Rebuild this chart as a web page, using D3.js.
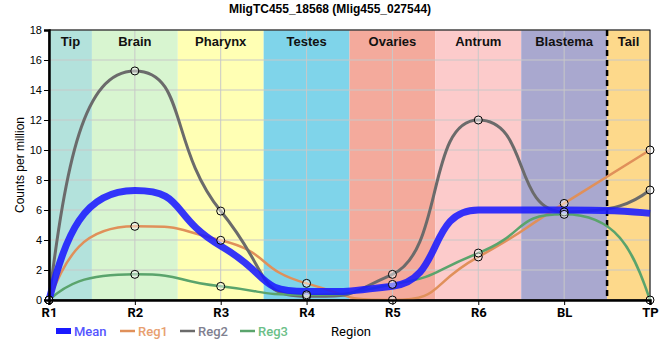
<!DOCTYPE html>
<html><head><meta charset="utf-8">
<script src="https://cdn.jsdelivr.net/npm/d3@7"></script>
<style>body{margin:0;background:#fff}</style>
</head><body><svg id="c" width="660" height="360"></svg>
<script>
const positions = ["R1","R2","R3","R4","R5","R6","BL","TP"];
const reg1 = [0, 4.91, 3.98, 1.11, 0, 2.87, 6.44, 10.0];
const reg2 = [0, 15.27, 5.93, 0.25, 1.71, 12.0, 5.87, 7.33];
const reg3 = [0, 1.71, 0.91, 0.35, 1.04, 3.13, 5.71, 0];
const meanVals = positions.map((p,i)=>(reg1[i]+reg2[i]+reg3[i])/3);
const bandNames = ["Tip","Brain","Pharynx","Testes","Ovaries","Antrum","Blastema","Tail"];
const bandStart = [0, 0.5, 1.5, 2.5, 3.5, 4.5, 5.5, 6.5];
const bandEnd   = [0.5, 1.5, 2.5, 3.5, 4.5, 5.5, 6.5, 7];
const bandColors = ["#b3e2dc","#d8f5d0","#ffffb4","#7fd4ea","#f4aa9c","#fccbcb","#a9a8cf","#fdd98b"];
const yTicks = [0,2,4,6,8,10,12,14,16,18];

const svg = d3.select("#c");
const L=49, R=650, T=30, B=300;
const xi = d3.scaleLinear().domain([0,7]).range([L,R]);
const x = d3.scalePoint().domain(positions).range([L,R]);
const y = d3.scaleLinear().domain([0,18]).range([B,T]);

svg.append("clipPath").attr("id","clip").append("rect")
  .attr("x",L-5).attr("y",T-10).attr("width",R-L+15).attr("height",B-T+10);

// bands
svg.selectAll("rect.band").data(bandNames).enter().append("rect")
  .attr("x",(d,i)=>xi(bandStart[i])).attr("y",T)
  .attr("width",(d,i)=>xi(bandEnd[i])-xi(bandStart[i])).attr("height",B-T)
  .attr("fill",(d,i)=>bandColors[i]);
// grid
svg.selectAll("line.gy").data(yTicks).enter().append("line")
  .attr("x1",L).attr("x2",R).attr("y1",d=>y(d)).attr("y2",d=>y(d))
  .attr("stroke","#c8c8c8").attr("stroke-width",1);
svg.selectAll("line.gx").data(positions).enter().append("line")
  .attr("x1",d=>x(d)).attr("x2",d=>x(d)).attr("y1",T).attr("y2",B)
  .attr("stroke","#c8c8c8").attr("stroke-width",1);
// band labels
svg.selectAll("text.bl").data(bandNames).enter().append("text")
  .attr("x",(d,i)=>(xi(bandStart[i])+xi(bandEnd[i]))/2).attr("y",46)
  .attr("text-anchor","middle").attr("font-family","Liberation Sans, Arial, sans-serif")
  .attr("font-weight","bold").attr("font-size",13).attr("fill","#111").text(d=>d);
// dashed divider
svg.append("line").attr("x1",xi(6.5)).attr("x2",xi(6.5)).attr("y1",T).attr("y2",B)
  .attr("stroke","#000").attr("stroke-width",2.5).attr("stroke-dasharray","6,4");
// border
svg.append("rect").attr("x",L).attr("y",T).attr("width",R-L).attr("height",B-T)
  .attr("fill","none").attr("stroke","#000").attr("stroke-width",1);

// Custom d3 curve: cubic Bezier segments with long horizontal handles (plateaus at extrema)
function PlateauCurve(context){ this._context = context; }
PlateauCurve.prototype = {
  areaStart(){}, areaEnd(){},
  lineStart(){ this._pts = []; },
  point(px,py){ this._pts.push([+px,+py]); },
  lineEnd(){
    const p = this._pts, n = p.length, c = this._context;
    if (!n) return;
    c.moveTo(p[0][0],p[0][1]);
    if (n < 3){ for(let i=1;i<n;i++) c.lineTo(p[i][0],p[i][1]); return; }
    const s = [];
    for(let i=0;i<n-1;i++) s.push((p[i+1][1]-p[i][1])/(p[i+1][0]-p[i][0]));
    const m = new Array(n).fill(0);
    for(let i=1;i<n-1;i++){
      const a=s[i-1], b=s[i];
      m[i] = (a*b>0) ? 2*a*b/(a+b) : 0;
    }
    const endSlope=(sec,adj)=>{
      let v = 3*sec - 2*adj;
      if (v*sec<=0) return 0;
      if (Math.abs(v)>3*Math.abs(sec)) v = 3*sec;
      return v;
    };
    m[0] = endSlope(s[0], m[1]);
    m[n-1] = endSlope(s[n-2], m[n-2]);
    for(let i=0;i<n-1;i++){
      const h = p[i+1][0]-p[i][0];
      const a0 = (i===0 ? 0.2 : 0.6)*h;
      const a1 = (i+1===n-1 ? 0.2 : 0.6)*h;
      c.bezierCurveTo(p[i][0]+a0, p[i][1]+a0*m[i],
                      p[i+1][0]-a1, p[i+1][1]-a1*m[i+1],
                      p[i+1][0], p[i+1][1]);
    }
  }
};
const plateauCurve = ctx => new PlateauCurve(ctx);

const line = d3.line().x((d,i)=>x(positions[i])).y(d=>y(d)).curve(plateauCurve);
const series = [
  {name:"Reg1", vals:reg1, color:"#e0905a", w:2.5},
  {name:"Reg2", vals:reg2, color:"#6b6b6b", w:3},
  {name:"Reg3", vals:reg3, color:"#5aa46c", w:2.5}
];
const g = svg.append("g").attr("clip-path","url(#clip)");
series.forEach(s=>{
  g.append("path").datum(s.vals).attr("d",line).attr("fill","none")
    .attr("stroke",s.color).attr("stroke-width",s.w);
});
g.append("path").datum(meanVals).attr("d",line).attr("fill","none")
  .attr("stroke","#1a1aff").attr("stroke-opacity",0.88).attr("stroke-width",7);
series.forEach(s=>{
  svg.selectAll(null).data(s.vals).enter().append("circle")
    .attr("cx",(d,i)=>x(positions[i])).attr("cy",d=>y(d)).attr("r",4)
    .attr("fill","rgba(255,255,255,0.45)").attr("stroke","#000").attr("stroke-width",1);
});

// axes
const ya = svg.append("g").attr("transform",`translate(${L},0)`)
  .call(d3.axisLeft(y).tickValues(yTicks).tickSize(5).tickPadding(2));
ya.select(".domain").attr("stroke-width",2.5);
ya.selectAll("text").attr("font-family","Liberation Sans, Arial, sans-serif").attr("font-size",11).attr("fill","#000");
const xa = svg.append("g").attr("transform",`translate(0,${B})`)
  .call(d3.axisBottom(x).tickSize(5).tickPadding(3));
xa.select(".domain").attr("stroke-width",2.5);
xa.selectAll("text").attr("font-family","Roboto, sans-serif").attr("font-weight","bold").attr("font-size",13).attr("fill","#000");

// title
svg.append("text").attr("x",330).attr("y",13).attr("text-anchor","middle")
  .attr("font-family","Liberation Sans, Arial, sans-serif").attr("font-weight","bold").attr("font-size",12)
  .text("MligTC455_18568 (Mlig455_027544)");
// y label
svg.append("text").attr("transform",`translate(24,${(T+B)/2}) rotate(-90)`).attr("text-anchor","middle")
  .attr("font-family","Liberation Sans, Arial, sans-serif").attr("font-size",12).text("Counts per million");
// x label
svg.append("text").attr("x",351).attr("y",336).attr("text-anchor","middle")
  .attr("font-family","Roboto, sans-serif").attr("font-size",13).text("Region");

// legend
const legend = [
  {name:"Mean", color:"#1a1aff", text:"#5555ff", x:56, w:6},
  {name:"Reg1", color:"#e0905a", text:"#e8a070", x:120, w:2.5},
  {name:"Reg2", color:"#6b6b6b", text:"#808090", x:180, w:2.5},
  {name:"Reg3", color:"#5aa46c", text:"#6cbf88", x:240, w:2.5}
];
legend.forEach(l=>{
  svg.append("line").attr("x1",l.x).attr("x2",l.x+15).attr("y1",331).attr("y2",331)
    .attr("stroke",l.color).attr("stroke-width",l.w);
  svg.append("text").attr("x",l.x+18).attr("y",336).attr("font-family","Roboto, sans-serif")
    .attr("font-weight",500).attr("font-size",13).attr("fill",l.text).text(l.name);
});
</script></body></html>
